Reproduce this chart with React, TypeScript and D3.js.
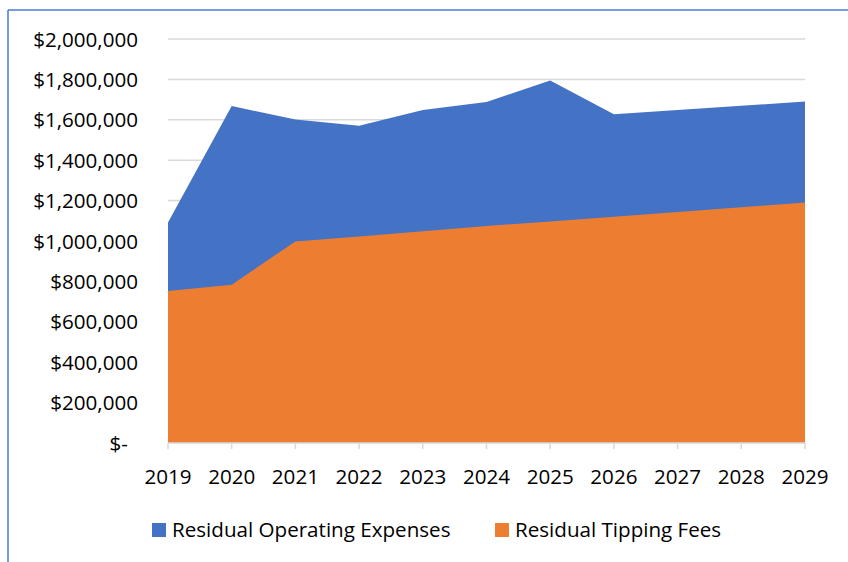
import React, { useEffect, useRef } from 'react';
import * as d3 from 'd3';

const years = ['2019', '2020', '2021', '2022', '2023', '2024', '2025', '2026', '2027', '2028', '2029'];
const operatingExpenses = [1092000, 1668000, 1602000, 1571000, 1648000, 1688000, 1794000, 1627000, 1648000, 1669000, 1690000];
const tippingFees = [752000, 784000, 998000, 1022000, 1048000, 1074000, 1097000, 1120000, 1144000, 1167000, 1190000];
const yTicks = [0, 200000, 400000, 600000, 800000, 1000000, 1200000, 1400000, 1600000, 1800000, 2000000];
const seriesNames = ['Residual Operating Expenses', 'Residual Tipping Fees'];
const seriesColors = ['#4472c4', '#ed7d31'];

const W = 848;
const H = 562;
const FONT = '"Open Sans", sans-serif';
const FS = 20.6;

export default function App() {
    const ref = useRef<SVGSVGElement>(null);

    useEffect(() => {
        const svg = d3.select(ref.current);
        svg.selectAll('*').remove();

        const x = d3.scalePoint().domain(years).range([168, 805]);
        const y = d3.scaleLinear().domain([0, 2000000]).range([443, 39]);

        // chart frame (only left and top edges visible)
        svg.append('line').attr('x1', 8).attr('x2', 8).attr('y1', 10).attr('y2', H)
            .attr('stroke', '#4a7bd4').attr('stroke-width', 1.5);
        svg.append('line').attr('x1', 8).attr('x2', W).attr('y1', 10).attr('y2', 10)
            .attr('stroke', '#4a7bd4').attr('stroke-width', 1.5);

        // gridlines
        svg.append('g').selectAll('line').data(yTicks.slice(1)).enter().append('line')
            .attr('x1', 168).attr('x2', 805)
            .attr('y1', d => y(d)).attr('y2', d => y(d))
            .attr('stroke', '#d9d9d9').attr('stroke-width', 1.5);

        const area = (vals: number[]) => d3.area<number>()
            .x((_, i) => x(years[i]) as number)
            .y0(y(0))
            .y1(d => y(d))(vals);

        svg.append('path').attr('d', area(operatingExpenses)).attr('fill', seriesColors[0]);
        svg.append('path').attr('d', area(tippingFees)).attr('fill', seriesColors[1]);

        // x axis
        svg.append('line').attr('x1', 168).attr('x2', 805).attr('y1', y(0)).attr('y2', y(0))
            .attr('stroke', '#d9d9d9').attr('stroke-width', 1.5);
        svg.append('g').selectAll('line').data(years).enter().append('line')
            .attr('x1', d => x(d) as number).attr('x2', d => x(d) as number)
            .attr('y1', y(0)).attr('y2', y(0) + 6)
            .attr('stroke', '#d9d9d9').attr('stroke-width', 1.5);
        svg.append('g').selectAll('text').data(years).enter().append('text')
            .attr('x', d => x(d) as number).attr('y', 484)
            .attr('text-anchor', 'middle')
            .attr('font-family', FONT).attr('font-size', FS).attr('fill', '#000')
            .text(d => d);

        // y labels
        const fmt = d3.format('$,');
        svg.append('g').selectAll('text').data(yTicks).enter().append('text')
            .attr('x', d => d === 0 ? 128 : 138).attr('y', d => y(d) + 7.5)
            .attr('text-anchor', 'end')
            .attr('font-family', FONT).attr('font-size', FS).attr('fill', '#000')
            .text(d => d === 0 ? '$-' : fmt(d));

        // legend
        const legendX = [152, 495];
        const lg = svg.append('g').selectAll('g').data(seriesNames).enter().append('g')
            .attr('transform', (_, i) => `translate(${legendX[i]},523)`);
        lg.append('rect').attr('width', 14).attr('height', 14).attr('fill', (_, i) => seriesColors[i]);
        lg.append('text').attr('x', 20).attr('y', 14)
            .attr('font-family', FONT).attr('font-size', FS).attr('fill', '#000')
            .text(d => d);
    }, []);

    return (
        <svg
            ref={ref}
            width={W}
            height={H}
            style={{ position: 'absolute', left: 0, top: 0, background: '#fff' }}
        />
    );
}
